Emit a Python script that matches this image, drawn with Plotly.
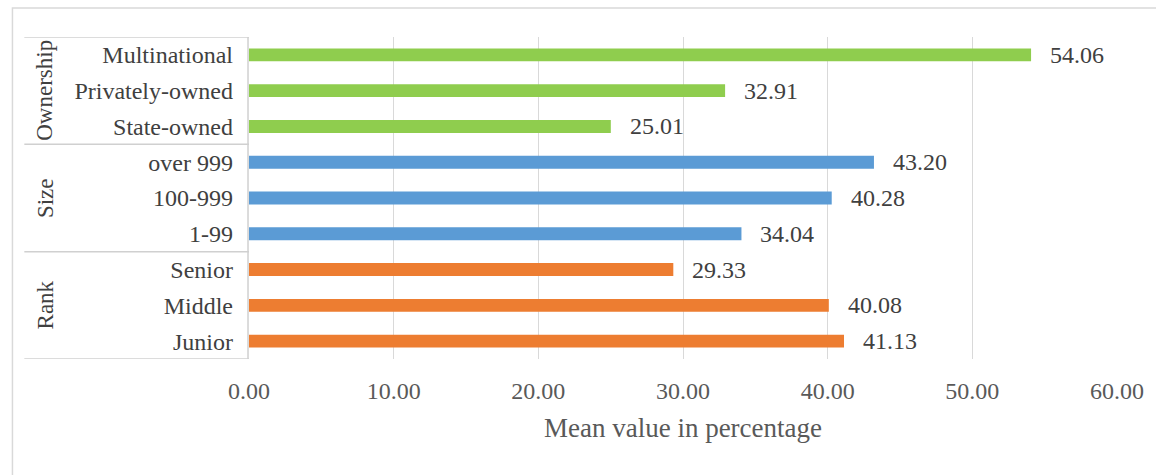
import plotly.graph_objects as go

# Categories listed bottom-to-top, as they appear on the y axis
categories = ["Junior", "Middle", "Senior",
              "1-99", "100-999", "over 999",
              "State-owned", "Privately-owned", "Multinational"]
values = [41.13, 40.08, 29.33,
          34.04, 40.28, 43.20,
          25.01, 32.91, 54.06]
groups = ["Rank", "Rank", "Rank",
          "Size", "Size", "Size",
          "Ownership", "Ownership", "Ownership"]
group_names = ["Rank", "Size", "Ownership"]
x_ticks = [0, 10, 20, 30, 40, 50, 60]

group_colors = {"Rank": "#ED7D31", "Size": "#5B9BD5", "Ownership": "#8FCD4E"}

W, H = 1156, 475
L, R, T, B = 249, 30, 37, 116
pw, ph = W - L - R, H - T - B


def px_x(p):
    return (p - L) / pw


def px_y(p):
    return (H - B - p) / ph


serif = "Liberation Serif"

fig = go.Figure()
fig.add_trace(go.Bar(
    y=categories,
    x=values,
    orientation="h",
    marker=dict(color=[group_colors[g] for g in groups], line=dict(width=0)),
    width=0.36,
    hoverinfo="x+y",
))

annotations = []
# value labels at the end of each bar
for c, v in zip(categories, values):
    annotations.append(dict(
        x=v, y=c, xref="x", yref="y", text=f"{v:.2f}",
        showarrow=False, xanchor="left", yanchor="middle", xshift=17,
        font=dict(family=serif, size=24, color="#404040"),
    ))

# group labels, rotated, in the left margin
for g in group_names:
    idx = [i for i, gg in enumerate(groups) if gg == g]
    center = (idx[0] + idx[-1]) / 2
    annotations.append(dict(
        x=px_x(43), y=center, xref="paper", yref="y", text=g,
        showarrow=False, textangle=-90, xanchor="center", yanchor="middle",
        font=dict(family=serif, size=23, color="#404040"),
    ))

shapes = []
# horizontal separators of the group box
bounds = [-0.5]
for g in group_names:
    idx = [i for i, gg in enumerate(groups) if gg == g]
    bounds.append(idx[-1] + 0.5)
for b in bounds:
    shapes.append(dict(type="line", xref="paper", yref="y",
                       x0=px_x(22), x1=0, y0=b, y1=b,
                       line=dict(color="#D0D0D0", width=1.5)))
# vertical axis line
shapes.append(dict(type="line", xref="paper", yref="y",
                   x0=px_x(248), x1=px_x(248), y0=-0.5, y1=len(categories) - 0.5,
                   line=dict(color="#D0D0D0", width=1.5)))
# chart frame
shapes.append(dict(type="rect", xref="paper", yref="paper",
                   x0=px_x(10), x1=px_x(1170), y0=px_y(490), y1=px_y(8),
                   line=dict(color="#D9D9D9", width=1.5), fillcolor="rgba(0,0,0,0)",
                   layer="below"))

fig.update_layout(
    width=W, height=H,
    margin=dict(l=L, r=R, t=T, b=B, pad=0),
    paper_bgcolor="white", plot_bgcolor="white",
    showlegend=False,
    bargap=0.64,
    xaxis=dict(
        range=[0, 60], tickvals=x_ticks,
        ticktext=[f"{t:.2f}" for t in x_ticks],
        showgrid=True, gridcolor="#D9D9D9", gridwidth=1.3,
        zeroline=False, showline=False, ticks="",
        ticklabelstandoff=15,
        tickfont=dict(family=serif, size=24, color="#595959"),
        title=dict(text="Mean value in percentage", standoff=15,
                   font=dict(family=serif, size=27, color="#595959")),
        fixedrange=True,
    ),
    yaxis=dict(
        type="category", categoryorder="array", categoryarray=categories,
        range=[-0.5, len(categories) - 0.5],
        showgrid=False, zeroline=False, showline=False, ticks="",
        ticklabelstandoff=15,
        tickfont=dict(family=serif, size=24, color="#404040"),
        fixedrange=True,
    ),
    annotations=annotations,
    shapes=shapes,
)

fig.write_html("out.html")
